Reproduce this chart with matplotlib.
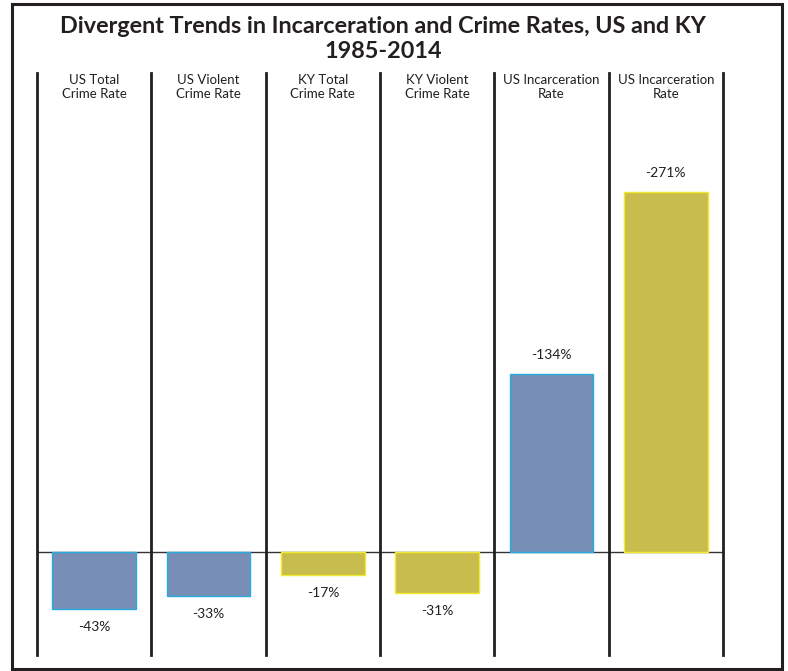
import matplotlib.pyplot as plt
from matplotlib.patches import Rectangle
import matplotlib.transforms as mtransforms

categories = ["US Total\nCrime Rate", "US Violent\nCrime Rate", "KY Total\nCrime Rate",
              "KY Violent\nCrime Rate", "US Incarceration\nRate", "US Incarceration\nRate"]
values = [-43, -33, -17, -31, 134, 271]
labels = ["-43%", "-33%", "-17%", "-31%", "-134%", "-271%"]
fills = ["#778fb7", "#778fb7", "#c8bc4e", "#c8bc4e", "#778fb7", "#c8bc4e"]
edges = ["#29abe2", "#29abe2", "#f2ea2e", "#f2ea2e", "#29abe2", "#f2ea2e"]

plt.rcParams['font.family'] = ['Lato', 'DejaVu Sans']

W, H = 788, 671
fig = plt.figure(figsize=(W / 100, H / 100), dpi=100)

# outer frame
fig.patches.append(Rectangle((12 / W, 2 / H), 770 / W, 665 / H, transform=fig.transFigure,
                             fill=False, edgecolor="#231f20", linewidth=2.2))

ax = fig.add_axes([37 / W, 1 - 655 / H, 686 / W, 582 / H])
ax.set_xlim(-0.5, 5.5)
ax.set_ylim(-77.4, 360.2)
ax.axis("off")

x = range(len(values))
ax.bar(x, values, width=0.73, color=fills, edgecolor=edges, linewidth=1.0, zorder=3)
ax.axhline(0, color="#333333", linewidth=1.0, zorder=2)
for i in range(len(values) + 1):
    ax.axvline(i - 0.5, color="#231f20", linewidth=2.0, zorder=4, clip_on=False)

trans = mtransforms.blended_transform_factory(ax.transData, ax.transAxes)
for i, c in enumerate(categories):
    ax.text(i, 0.976, c, transform=trans, ha="center", va="center",
            fontsize=9.5, linespacing=1.25, color="#231f20")

for i, (v, lab) in enumerate(zip(values, labels)):
    off = 13.5 if v > 0 else -13
    ax.annotate(lab, (i, v), xytext=(0, off), textcoords="offset points",
                ha="center", va="center", fontsize=10, color="#231f20")

fig.text(383 / W, 1 - 39 / H, "Divergent Trends in Incarceration and Crime Rates, US and KY\n1985-2014",
         ha="center", va="center", fontsize=16.8, fontweight="bold", linespacing=1.25, color="#231f20")

fig.savefig("out.png", dpi=100)
